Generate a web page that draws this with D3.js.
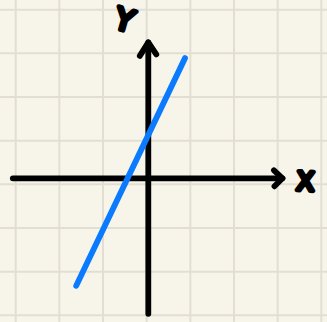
<!DOCTYPE html>
<html>
<head>
<meta charset="utf-8">
<script src="https://cdn.jsdelivr.net/npm/d3@7/dist/d3.min.js"></script>
<style>
  html, body { margin: 0; padding: 0; background: #f7f5ea; }
  svg { display: block; }
</style>
</head>
<body>
<script>
// ---- data ----
const gridCols = [0, 1, 2, 3, 4, 5, 6, 7];
const gridRows = [0, 1, 2, 3, 4, 5, 6, 7];
const xAxisExtent = [-3.1, 3.07];
const yAxisExtent = [-3.1, 3.11];
const lineXs = [-1.65, 0.84];
const lineYs = [-2.46, 2.75];
const axisLabels = ["X", "Y"];

const W = 327, H = 322;
const svg = d3.select("body").append("svg").attr("width", W).attr("height", H);

svg.append("rect").attr("width", W).attr("height", H).attr("fill", "#f7f5ea");

// background grid scales
const gx = d3.scaleLinear().domain([0, 7]).range([15.7, 321.3]);
const gy = d3.scaleLinear().domain([0, 7]).range([9.7, 315.3]);

const grid = svg.append("g").attr("stroke", "#e2dfd2").attr("stroke-width", 2);
grid.selectAll("line.v").data(gridCols).join("line").attr("class", "v")
  .attr("x1", d => gx(d)).attr("x2", d => gx(d)).attr("y1", 0).attr("y2", H);
grid.selectAll("line.h").data(gridRows).join("line").attr("class", "h")
  .attr("y1", d => gy(d)).attr("y2", d => gy(d)).attr("x1", 0).attr("x2", W);

// data scales
const x = d3.scaleLinear().domain([-1, 1]).range([148.3 - 43.7, 148.3 + 43.7]);
const y = d3.scaleLinear().domain([-1, 1]).range([178.3 + 43.7, 178.3 - 43.7]);

const axes = svg.append("g").attr("stroke", "#000").attr("stroke-width", 5.8)
  .attr("stroke-linecap", "round").attr("stroke-linejoin", "round").attr("fill", "none");

// x axis
axes.append("line")
  .attr("x1", x(xAxisExtent[0])).attr("x2", x(xAxisExtent[1]))
  .attr("y1", y(0)).attr("y2", y(0));
const xt = [x(xAxisExtent[1]), y(0)];
axes.append("path").attr("d", d3.line()([[xt[0] - 8.5, xt[1] - 8], xt, [xt[0] - 8, xt[1] + 8]]));

// y axis
axes.append("line")
  .attr("x1", x(0)).attr("x2", x(0))
  .attr("y1", y(yAxisExtent[0])).attr("y2", y(yAxisExtent[1]));
const yt = [x(0), y(yAxisExtent[1])];
axes.append("path").attr("d", d3.line()([[yt[0] - 8.5, yt[1] + 13.5], yt, [yt[0] + 8, yt[1] + 12]]));

// blue line
svg.append("path")
  .datum(lineXs.map((v, i) => [v, lineYs[i]]))
  .attr("d", d3.line().x(d => x(d[0])).y(d => y(d[1])))
  .attr("fill", "none").attr("stroke", "#0a7aff").attr("stroke-width", 5.8)
  .attr("stroke-linecap", "round");

// labels
const lab = svg.append("g")
  .attr("font-family", "DejaVu Sans")
  .attr("fill", "#000").attr("stroke", "#000").attr("stroke-width", 4.5)
  .attr("stroke-linejoin", "round").attr("stroke-linecap", "round")
  .attr("text-anchor", "middle");

lab.append("text").text(axisLabels[0])
  .attr("font-size", 26)
  .attr("x", 305.5).attr("y", 190.5)
  .attr("transform", "rotate(3, 305.5, 181)");
lab.append("text").text(axisLabels[1])
  .attr("font-size", 30)
  .attr("x", 124.5).attr("y", 30.5)
  .attr("transform", "rotate(16, 124.5, 19.5)");
</script>
</body>
</html>
